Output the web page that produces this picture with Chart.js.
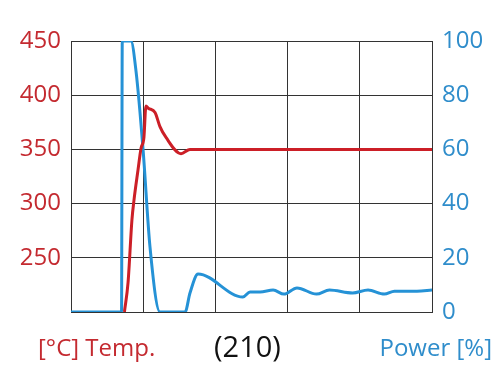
<!DOCTYPE html>
<html>
<head>
<meta charset="utf-8">
<script src="https://cdn.jsdelivr.net/npm/chart.js@4"></script>
<style>
  body { margin: 0; background: #fff; }
  #wrap { position: relative; width: 498px; height: 374px; }
  .lbl { position: absolute; font-family: "Open Sans", sans-serif; font-size: 24px; white-space: nowrap; }
</style>
</head>
<body>
<div id="wrap">
  <canvas id="myChart" width="498" height="374"></canvas>
  <span class="lbl" style="left:38px; top:330px; color:#c42a30;">[°C] Temp.</span>
  <span class="lbl" style="left:214px; top:326px; color:#111; font-size:29px;">(210)</span>
  <span class="lbl" style="right:6px; top:330px; color:#2f8dcb;">Power [%]</span>
</div>
<script>
// temperature curve (left axis)
const tempTime = [37, 39.5, 42.2, 43.6, 46.4, 48.5, 50.5, 51.9, 53.5, 58.2, 61.6, 65.8, 76.2, 82.4, 250]
const temp = [200, 227, 285, 303, 331, 351, 361, 390, 388, 384, 371, 361, 346, 350, 350]

// power curve (right axis)
const powerTime = [0, 35, 35.5, 41.5, 45, 49.9, 54.7, 61.6, 79, 82.4, 88, 119, 124, 131, 140, 147.5, 156.5, 170, 179, 195, 205.7, 217, 224, 239.6, 250]
const power = [0, 0, 100, 100, 89, 60, 24, 0, 0, 7, 14, 5.5, 7.4, 7.4, 8.1, 6.6, 8.9, 6.6, 8.1, 7, 8.1, 6.6, 7.7, 7.7, 8.1]

const tempTicks = [200, 250, 300, 350, 400, 450]
const powerTicks = [0, 20, 40, 60, 80, 100]

const red = '#cc1f27'
const blue = '#2592d6'
const gridColor = '#333333'

const toPoints = (xs, ys) => xs.map((x, i) => ({ x: x, y: ys[i] }))

const ctx = document.getElementById('myChart').getContext('2d')
const myChart = new Chart(ctx, {
    type: 'line',
    data: {
        datasets: [{
            label: 'Temp.',
            data: toPoints(tempTime, temp),
            yAxisID: 'y',
            borderColor: red,
            borderWidth: 3,
            pointRadius: 0,
            cubicInterpolationMode: 'monotone',
            fill: false
        }, {
            label: 'Power',
            data: toPoints(powerTime, power),
            yAxisID: 'y1',
            borderColor: blue,
            borderWidth: 3,
            pointRadius: 0,
            cubicInterpolationMode: 'monotone',
            fill: false
        }]
    },
    options: {
        responsive: false,
        animation: false,
        devicePixelRatio: 1,
        layout: { padding: { top: 41, left: 0, right: 0, bottom: 0 } },
        plugins: { legend: { display: false }, tooltip: { enabled: false } },
        scales: {
            x: {
                type: 'linear',
                min: 0,
                max: 250,
                ticks: { stepSize: 50, display: false },
                grid: { color: gridColor, lineWidth: 1, drawTicks: false },
                border: { color: gridColor, width: 1 },
                afterFit: (scale) => { scale.height = 62 }
            },
            y: {
                position: 'left',
                min: tempTicks[0],
                max: tempTicks[tempTicks.length - 1],
                afterBuildTicks: (scale) => { scale.ticks = tempTicks.map(v => ({ value: v })) },
                ticks: {
                    color: '#c42a30',
                    padding: 10,
                    font: { family: 'Open Sans', size: 24 },
                    callback: (v) => v === 200 ? '' : v
                },
                grid: { color: gridColor, lineWidth: 1, drawTicks: false },
                border: { color: gridColor, width: 1 },
                afterFit: (scale) => { scale.width = 71 }
            },
            y1: {
                position: 'right',
                min: powerTicks[0],
                max: powerTicks[powerTicks.length - 1],
                afterBuildTicks: (scale) => { scale.ticks = powerTicks.map(v => ({ value: v })) },
                ticks: {
                    color: '#2f8dcb',
                    padding: 10,
                    font: { family: 'Open Sans', size: 24 }
                },
                grid: { display: false, drawTicks: false },
                border: { color: gridColor, width: 1 },
                afterFit: (scale) => { scale.width = 66 }
            }
        }
    }
})
</script>
</body>
</html>
